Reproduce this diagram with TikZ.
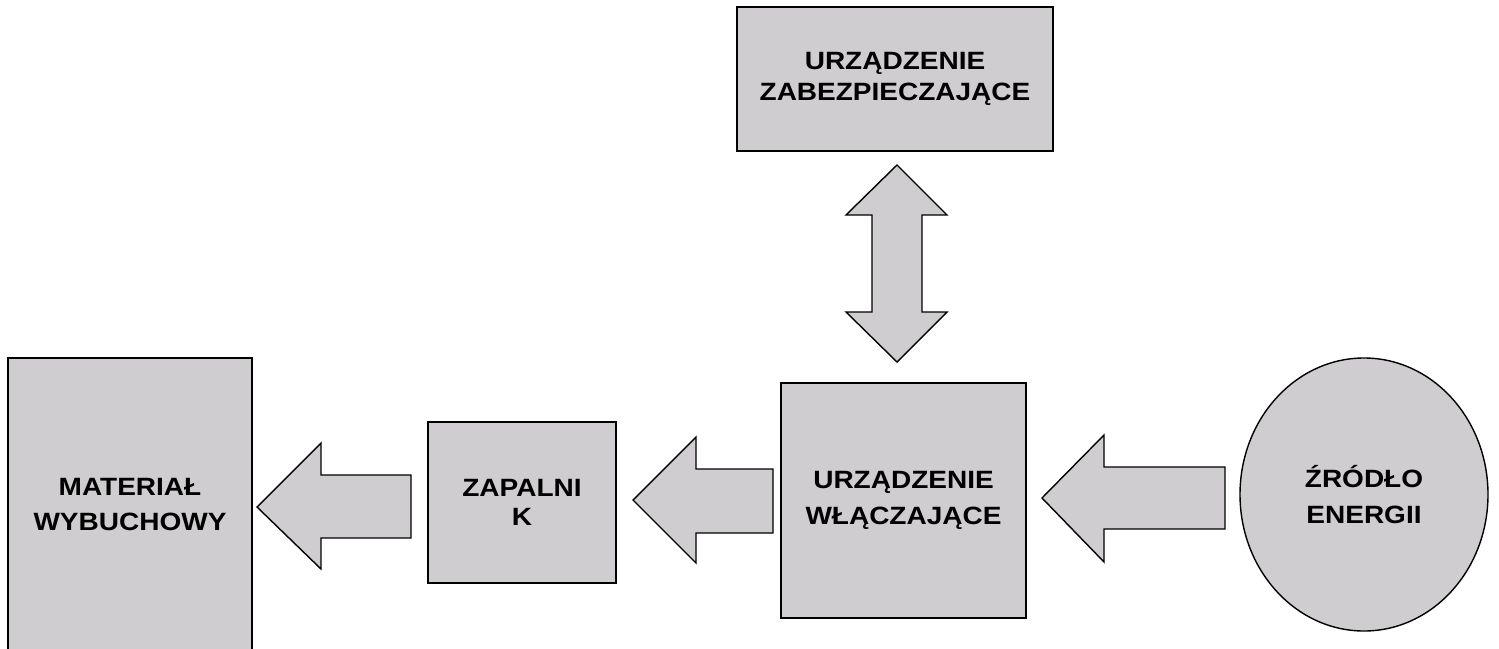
\documentclass[tikz,border=0pt]{standalone}
\usepackage{fontspec}
\setmainfont{Liberation Sans}[FakeStretch=1.12]
\usetikzlibrary{shapes.geometric}
\definecolor{boxgray}{RGB}{207,205,207}
\tikzset{
  blk/.style={draw=black, line width=1.6pt, fill=boxgray, inner sep=0pt, align=center,
    font=\bfseries\fontsize{25}{36}\selectfont},
  blkarrow/.style={draw=black, line width=1.4pt, fill=boxgray, line join=miter}
}
\begin{document}
\begin{tikzpicture}[x=1pt,y=-1pt]
\useasboundingbox (0,0) rectangle (1499,648);
\fill[white] (0,0) rectangle (1499,648);
% boxes
\node[blk, minimum width=316pt, minimum height=144pt, font=\bfseries\fontsize{25}{31}\selectfont] (zab) at (895,79) {URZĄDZENIE\\ZABEZPIECZAJĄCE};
\node[blk, minimum width=244pt, minimum height=294pt, font=\bfseries\fontsize{25}{35}\selectfont] (mat) at (130,505) {MATERIAŁ\\WYBUCHOWY};
\node[blk, minimum width=188pt, minimum height=161pt, font=\bfseries\fontsize{25}{29}\selectfont] (zap) at (522,502.5) {ZAPALNI\\K};
\node[blk, minimum width=245pt, minimum height=235pt] (wl) at (903.5,500.5) {URZĄDZENIE\\WŁĄCZAJĄCE};
\node[blk, ellipse, minimum width=248pt, minimum height=273pt, line width=1.4pt] (zr) at (1364,494.5) {ŹRÓDŁO\\ENERGII};
% block arrows
\draw[blkarrow] (257,507) -- (321,443) -- (321,475) -- (411,475) -- (411,538) -- (321,538) -- (321,569) -- cycle;
\draw[blkarrow] (633,500) -- (696,437) -- (696,469) -- (773,469) -- (773,533) -- (696,533) -- (696,563) -- cycle;
\draw[blkarrow] (1042,498) -- (1104,435) -- (1104,467) -- (1225,467) -- (1225,529) -- (1104,529) -- (1104,562) -- cycle;
\draw[blkarrow] (897,165) -- (947,215) -- (922,215) -- (922,312) -- (947,312) -- (897,362) -- (846,312) -- (872,312) -- (872,215) -- (846,215) -- cycle;
\end{tikzpicture}
\end{document}
